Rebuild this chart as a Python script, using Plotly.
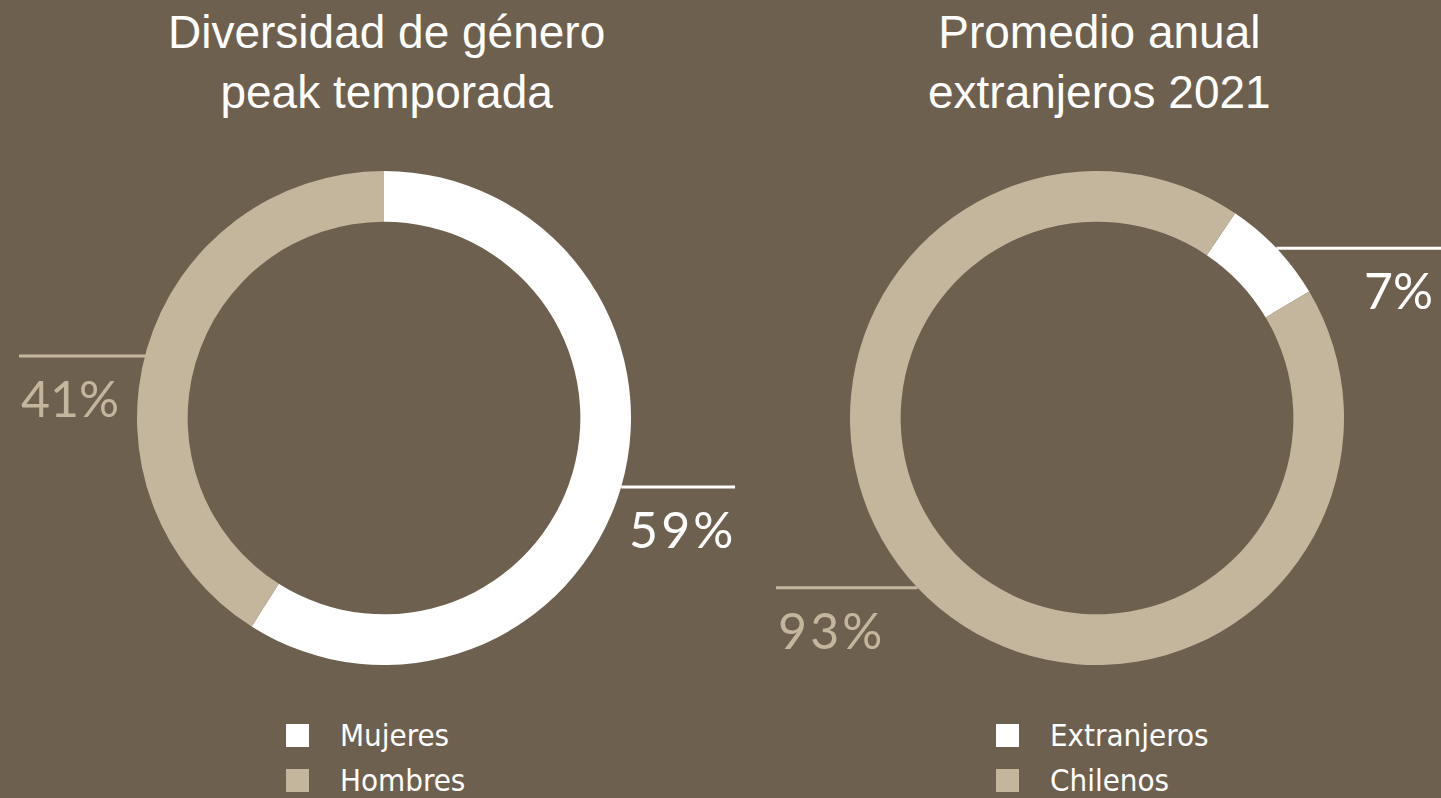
import math
import plotly.graph_objects as go

# ---------------- data ----------------
gender_labels = ["Mujeres", "Hombres"]
gender_values = [59, 41]
origin_labels = ["Extranjeros", "Chilenos"]
origin_values = [7, 93]
chart_titles = ["Diversidad de género<br>peak temporada",
                "Promedio anual<br>extranjeros 2021"]

# ---------------- style / layout ----------------
W, H = 1441, 798
BG = "#6E604F"
WHITE = "#FFFFFF"
BEIGE = "#C4B69C"
SLICE_COLORS = [WHITE, BEIGE]
R = 247
HOLE = 0.795
CENTERS = [(384, 418), (1097, 418)]
ROTATIONS = [0, 34]
LINE_ENDS = [[735, 19], [1441, 776]]   # outer x end of each leader line
LINE_NUDGE = [[0, 7], [0, 0]]          # small vertical nudge of leader lines (px)
TRACKED = [[True, False], [False, True]]  # wide letter spacing on label
LEGEND_X = [-98, -101]
TITLE_FONT = "Liberation Sans, Arial, sans-serif"
PCT_FONT = "Lato, Noto Sans, sans-serif"
LEG_FONT = "DejaVu Sans Condensed, DejaVu Sans, sans-serif"


def px_x(x):
    return x / W


def px_y(y):
    return 1 - y / H


fig = go.Figure()
shapes = []
annotations = []

datasets = [(gender_labels, gender_values), (origin_labels, origin_values)]

for i, (labels, values) in enumerate(datasets):
    cx, cy = CENTERS[i]
    fig.add_trace(go.Pie(
        labels=labels,
        values=values,
        hole=HOLE,
        sort=False,
        direction="clockwise",
        rotation=ROTATIONS[i],
        marker=dict(colors=SLICE_COLORS, line=dict(width=0)),
        textinfo="none",
        hoverinfo="label+percent",
        showlegend=False,
        domain=dict(x=[px_x(cx - R), px_x(cx + R)],
                    y=[px_y(cy + R), px_y(cy - R)]),
    ))

    # title
    annotations.append(dict(
        text=chart_titles[i], x=px_x(cx + 2), y=px_y(4),
        xref="paper", yref="paper", xanchor="center", yanchor="top",
        showarrow=False, align="center",
        font=dict(family=TITLE_FONT, size=46, color=WHITE),
    ))

    # leader lines + percentage labels
    total = sum(values)
    cum = 0
    for j, v in enumerate(values):
        mid = math.radians(ROTATIONS[i] + (cum + v / 2) / total * 360)
        cum += v
        sx = cx + R * math.sin(mid)
        sy = cy - R * math.cos(mid) + LINE_NUDGE[i][j]
        ex = LINE_ENDS[i][j]
        col = SLICE_COLORS[j]
        shapes.append(dict(type="line", xref="paper", yref="paper",
                           x0=px_x(sx), x1=px_x(ex), y0=px_y(sy), y1=px_y(sy),
                           line=dict(color=col, width=3)))
        right = ex > sx
        txt = f"{v}%"
        if TRACKED[i][j]:
            txt = "\u200a".join(txt)
        annotations.append(dict(
            text=txt,
            x=px_x(min(ex, W - 6) if right else ex), y=px_y(sy + 10),
            xref="paper", yref="paper",
            xanchor="right" if right else "left", yanchor="top",
            showarrow=False,
            font=dict(family=PCT_FONT, size=50, color=col),
        ))

    # legend
    for j, lab in enumerate(labels):
        rowc = 735.5 + 45 * j
        lx = cx + LEGEND_X[i]
        shapes.append(dict(type="rect", xref="paper", yref="paper",
                           x0=px_x(lx), x1=px_x(lx + 23),
                           y0=px_y(rowc + 11.5), y1=px_y(rowc - 11.5),
                           fillcolor=SLICE_COLORS[j], line=dict(width=0)))
        annotations.append(dict(
            text=lab, x=px_x(lx + 52), y=px_y(rowc - 1),
            xref="paper", yref="paper", xanchor="left", yanchor="middle",
            showarrow=False,
            font=dict(family=LEG_FONT, size=31, color=WHITE),
        ))

fig.update_layout(
    width=W, height=H,
    paper_bgcolor=BG, plot_bgcolor=BG,
    margin=dict(l=0, r=0, t=0, b=0),
    shapes=shapes, annotations=annotations,
    showlegend=False,
)

fig.write_html(
    "out.html",
    config={"displayModeBar": False},
    post_script="document.body.style.margin='0';"
                "document.body.style.overflow='hidden';"
                "document.body.style.background='" + BG + "';",
)
